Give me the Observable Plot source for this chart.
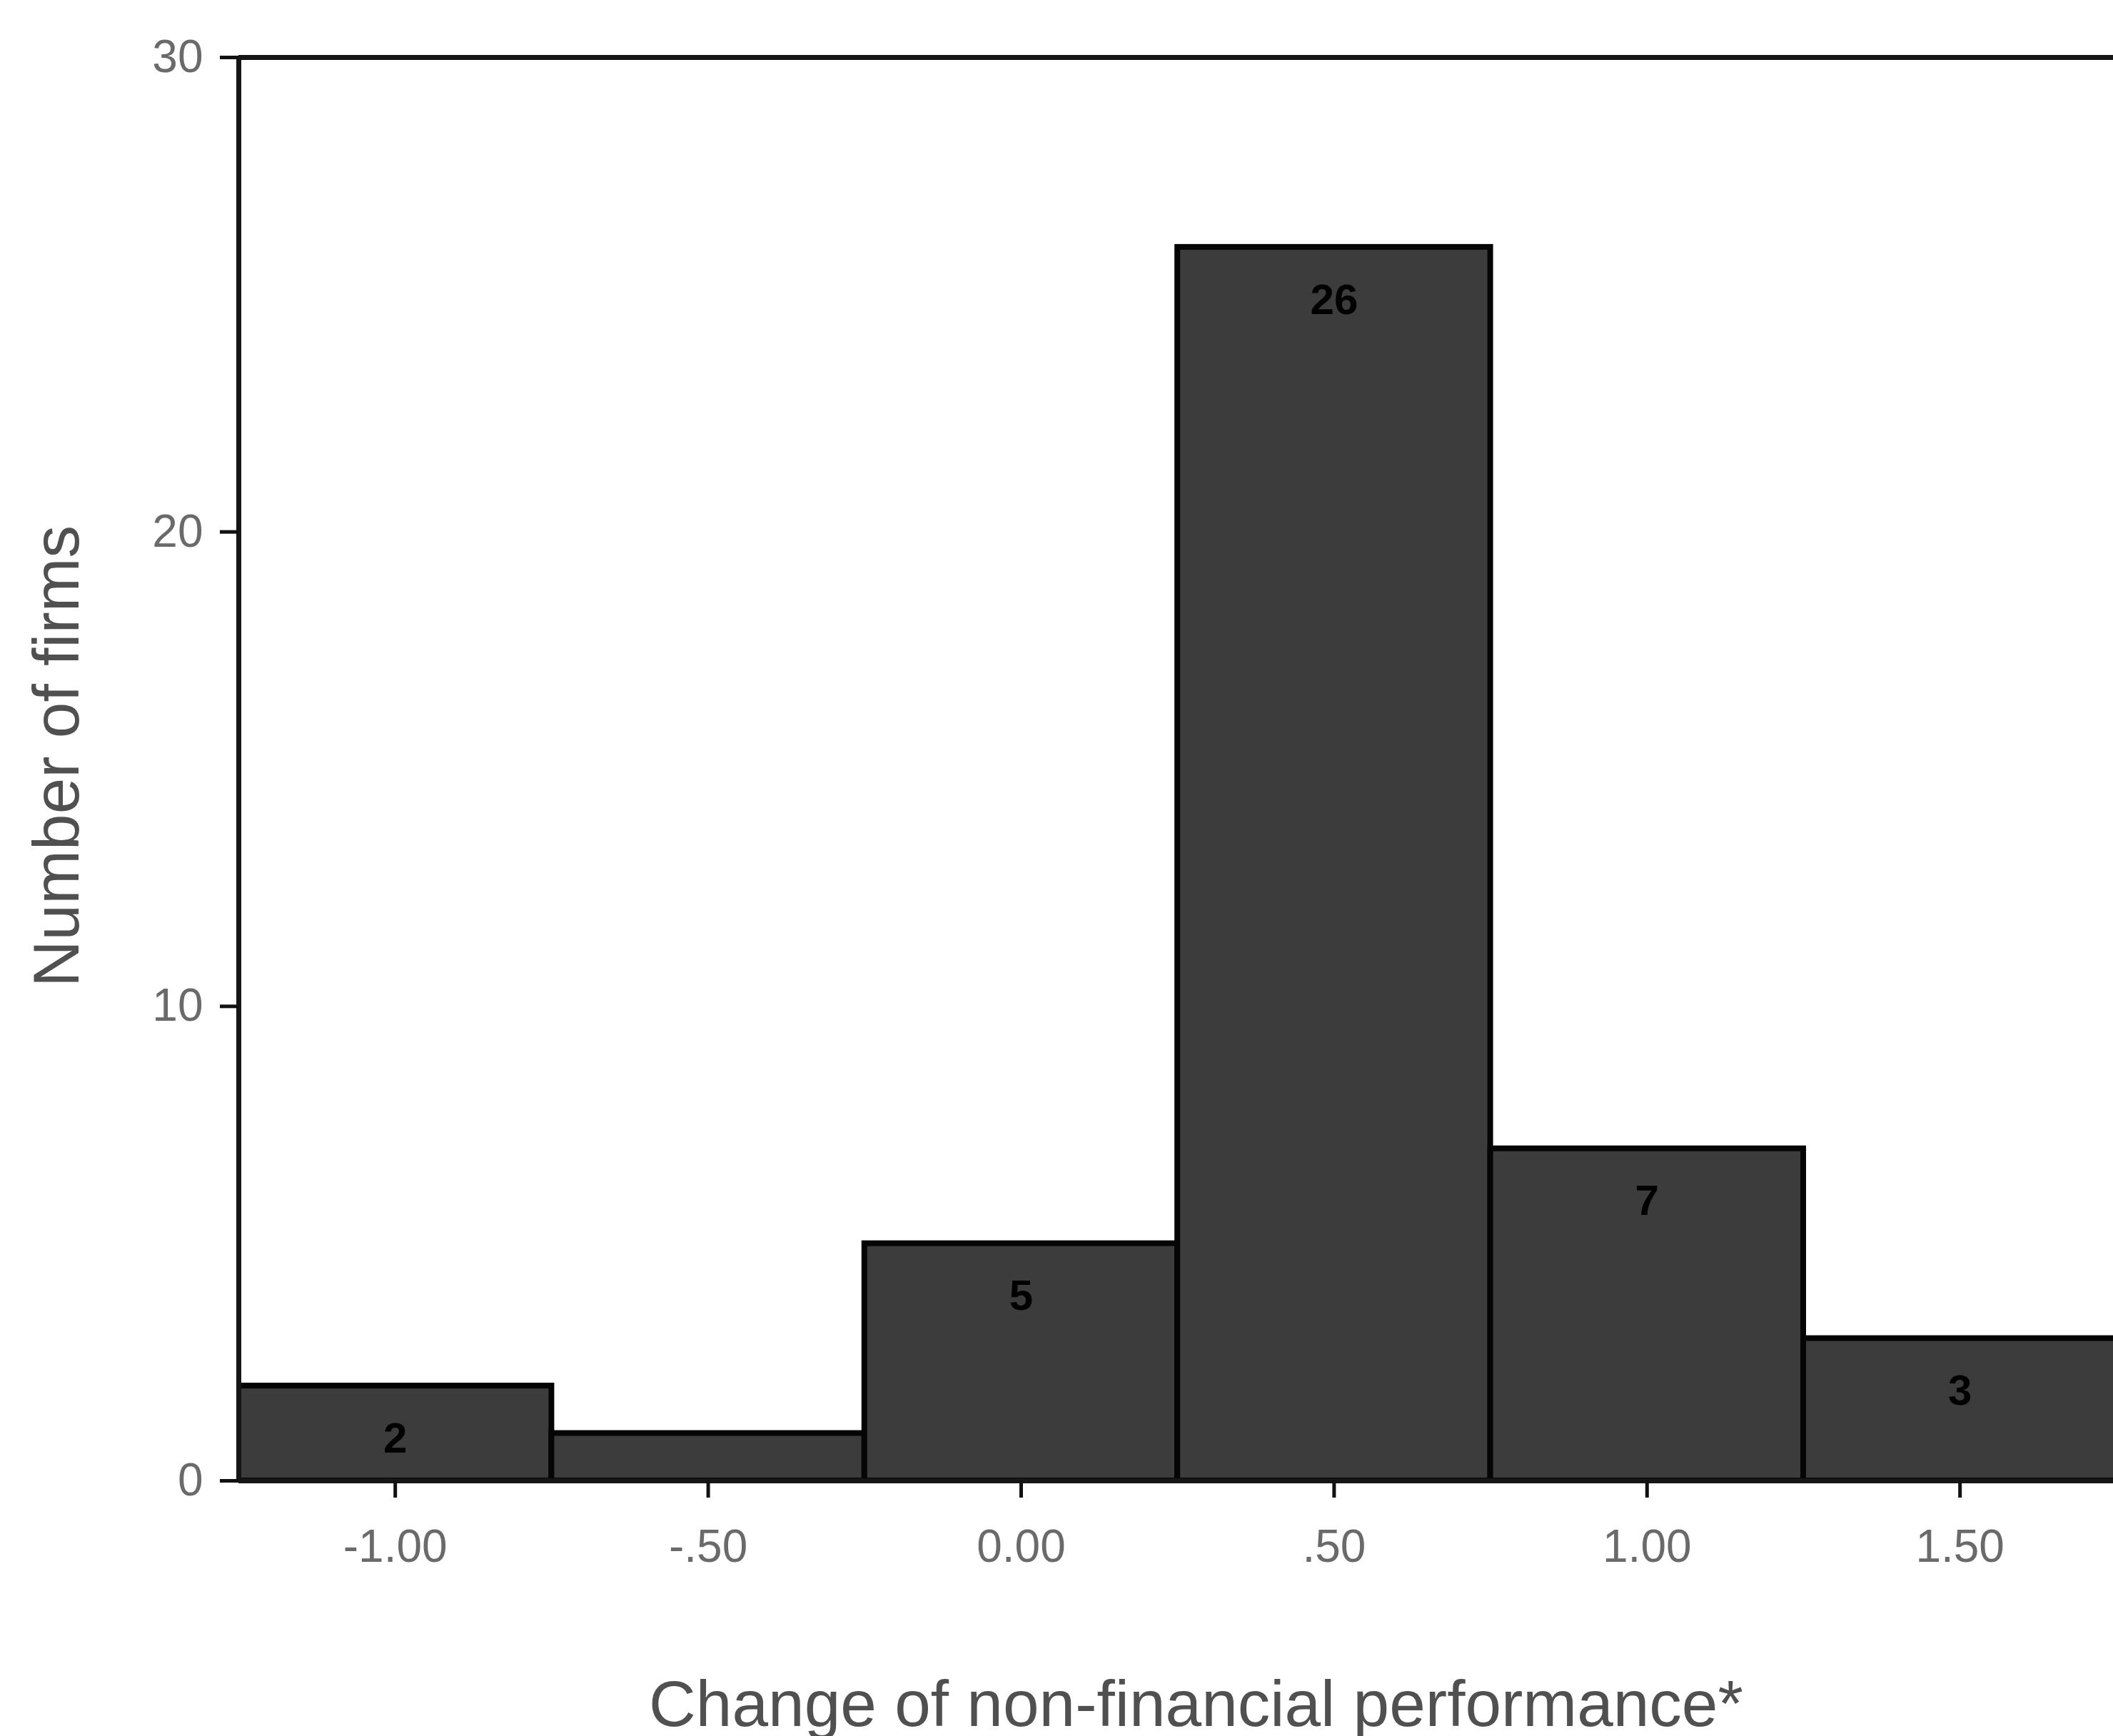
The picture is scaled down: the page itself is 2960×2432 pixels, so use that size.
<!DOCTYPE html>
<html>
<head>
<meta charset="utf-8">
<script src="https://cdn.jsdelivr.net/npm/d3@7"></script>
<script src="https://cdn.jsdelivr.net/npm/@observablehq/plot@0.6"></script>
<style>
  html, body { margin: 0; padding: 0; background: #ffffff; }
  #chart svg { display: block; }
</style>
</head>
<body>
<div id="chart"></div>
<script>
// Bin centres of the histogram (bin width 0.5)
const binCenters = [-1.0, -0.5, 0.0, 0.5, 1.0, 1.5];
// Number of firms per bin
const counts = [2, 1, 5, 26, 7, 3];
const binWidth = 0.5;

// Axis ticks and their labels
const xTicks = [-1.0, -0.5, 0.0, 0.5, 1.0, 1.5];
const xTickLabels = ["-1.00", "-.50", "0.00", ".50", "1.00", "1.50"];
const yTicks = [0, 10, 20, 30];

const xTitle = "Change of non-financial performance*";
const yTitle = "Number of firms";

const bins = binCenters.map((c, i) => ({
  center: c,
  x1: c - binWidth / 2,
  x2: c + binWidth / 2,
  count: counts[i]
}));

const W = 2960, H = 2432;
const mL = 334, mT = 80, mB = 358;

const chart = Plot.plot({
  width: W,
  height: H,
  marginLeft: mL,
  marginRight: 0,
  marginTop: mT,
  marginBottom: mB,
  style: {
    fontFamily: "'Liberation Sans', Arial, Helvetica, sans-serif",
    background: "#ffffff",
    overflow: "visible"
  },
  x: { domain: [-1.25, 1.745] },
  y: { domain: [0, 30] },
  marks: [
    Plot.rectY(bins, {
      x1: "x1", x2: "x2", y1: 0, y2: "count",
      fill: "#3c3c3c", stroke: "#050505", strokeWidth: 8, clip: true
    }),
    Plot.ruleY([30], { stroke: "#161616", strokeWidth: 7 }),
    Plot.ruleY([0], { stroke: "#161616", strokeWidth: 7 }),
    Plot.ruleX([-1.25], { stroke: "#161616", strokeWidth: 7 }),
    Plot.axisX({
      ticks: xTicks,
      tickFormat: d => xTickLabels[xTicks.indexOf(d)],
      tickSize: 24,
      tickPadding: 44,
      stroke: "#111",
      strokeWidth: 5,
      fill: "#6a6a6a",
      fontSize: 64,
      label: null
    }),
    Plot.axisY({
      ticks: yTicks,
      tickSize: 26,
      tickPadding: 24,
      stroke: "#111",
      strokeWidth: 5,
      fill: "#6a6a6a",
      fontSize: 64,
      label: null
    }),
    Plot.text(bins.filter(d => d.count > 1), {
      x: "center", y: "count", text: d => String(d.count),
      dy: 74, fontSize: 60, fontWeight: "bold", fill: "#000"
    }),
    Plot.text([xTitle], {
      text: d => d, frameAnchor: "bottom", textAnchor: "middle", lineAnchor: "middle",
      dx: 28, dy: 314,
      fontSize: 91, fill: "#505050"
    }),
    Plot.text([yTitle], {
      text: d => d, frameAnchor: "left", textAnchor: "middle", lineAnchor: "middle",
      dx: -254, dy: -18, rotate: -90,
      fontSize: 91, fill: "#505050"
    })
  ]
});

document.getElementById("chart").appendChild(chart);
</script>
</body>
</html>
